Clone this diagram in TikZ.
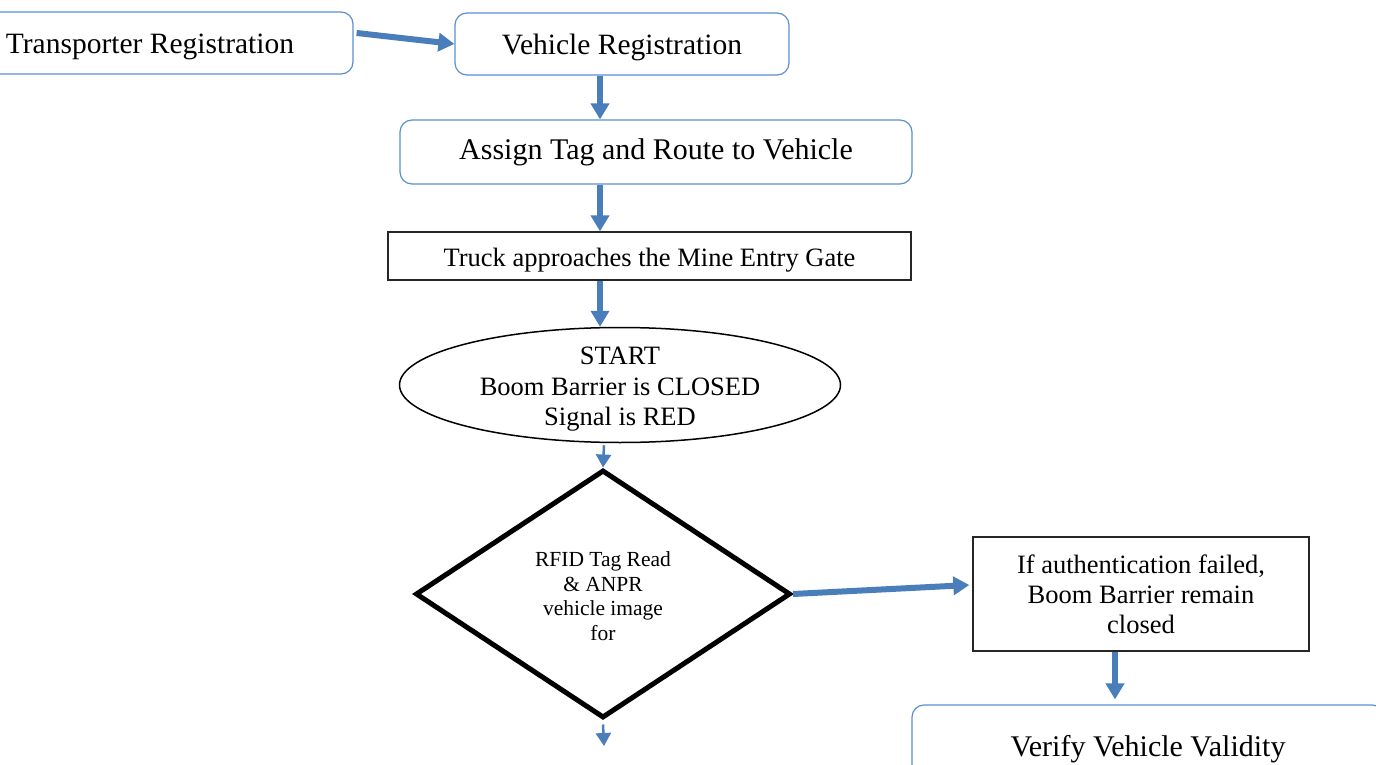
\documentclass[tikz,border=0pt]{standalone}
\usepackage{fontspec}
\setmainfont{Liberation Serif}
\usetikzlibrary{shapes.geometric,arrows.meta}
\definecolor{arrblue}{RGB}{74,126,187}
\definecolor{boxblue}{RGB}{91,143,208}
\begin{document}
\begin{tikzpicture}[x=1pt,y=-1pt,
  rbox/.style={draw=boxblue, line width=1.2pt, rounded corners=12pt, inner sep=0pt, fill=white,
    font=\fontsize{29.5}{34}\selectfont, text height=21pt, text depth=0.4pt},
  sbox/.style={draw=black!85, line width=1.3pt, inner sep=0pt, align=center,
    font=\fontsize{26.5}{30}\selectfont},
  flow/.style={draw=arrblue, line width=6pt, -{Triangle[length=16pt,width=18pt]}},
  thinflow/.style={draw=arrblue, line width=2.5pt, -{Triangle[length=13pt,width=15pt]}}]
\clip (0,0) rectangle (1376,765);
\fill[white] (0,0) rectangle (1376,765);
\node[rbox, minimum width=406pt, minimum height=62pt] (tr) at (150,43) {Transporter Registration};
\node[rbox, minimum width=334pt, minimum height=62pt] (vr) at (622,44) {Vehicle Registration};
\node[rbox, minimum width=512pt, minimum height=64pt, font=\fontsize{30}{34}\selectfont,
  text height=21pt, text depth=5pt] (at) at (656,152) {Assign Tag and Route to Vehicle};
\node[sbox, minimum width=523pt, minimum height=48pt, text height=20pt, text depth=0pt] (tk) at (649.5,256)
  {Truck approaches the Mine Entry Gate};
\node[ellipse, draw=black, line width=1.5pt, minimum width=441pt, minimum height=115pt, inner sep=0pt]
  (st) at (620,385) {};
\node[align=center, inner sep=0pt, font=\fontsize{26.5}{30.5}\selectfont] (sttext) at (620,389.5)
  {START\\Boom Barrier is CLOSED\\Signal is RED};
\node[diamond, draw=black, line width=5pt, minimum width=375pt, minimum height=248pt, inner sep=0pt,
  align=center, font=\fontsize{21.5}{24.5}\selectfont] (dc) at (603,594)
  {\rule{0pt}{19pt}RFID Tag Read\\\& ANPR\\vehicle image\\for};
\node[sbox, minimum width=336pt, minimum height=114pt] (af) at (1141,594)
  {If authentication failed,\\Boom Barrier remain\\closed};
\node[rbox, minimum width=472pt, minimum height=78pt, font=\fontsize{30}{34}\selectfont,
  text height=25.4pt, text depth=0pt] (vv) at (1148,744) {Verify Vehicle Validity};
\coordinate (cx) at (600,0);
\coordinate (dx) at (604,0);
\coordinate (fx) at (1115,0);
\coordinate (dend) at (604,746);
\draw[flow] ([xshift=3pt,yshift=10pt]tr.east) -- (vr.west);
\draw[flow] (vr.south -| cx) -- (at.north -| cx);
\draw[flow] (at.south -| cx) -- (tk.north -| cx);
\draw[flow] (tk.south -| cx) -- (st.north -| cx);
\draw[thinflow] ([yshift=-2pt]st.south -| dx) -- (dc.north);
\draw[thinflow] ([yshift=-4pt]dc.south) -- (dend);
\draw[flow] (dc.east) -- ([xshift=-3pt,yshift=9pt]af.west);
\draw[flow] (af.south -| fx) -- ([yshift=5pt]vv.north -| fx);
\end{tikzpicture}
\end{document}
